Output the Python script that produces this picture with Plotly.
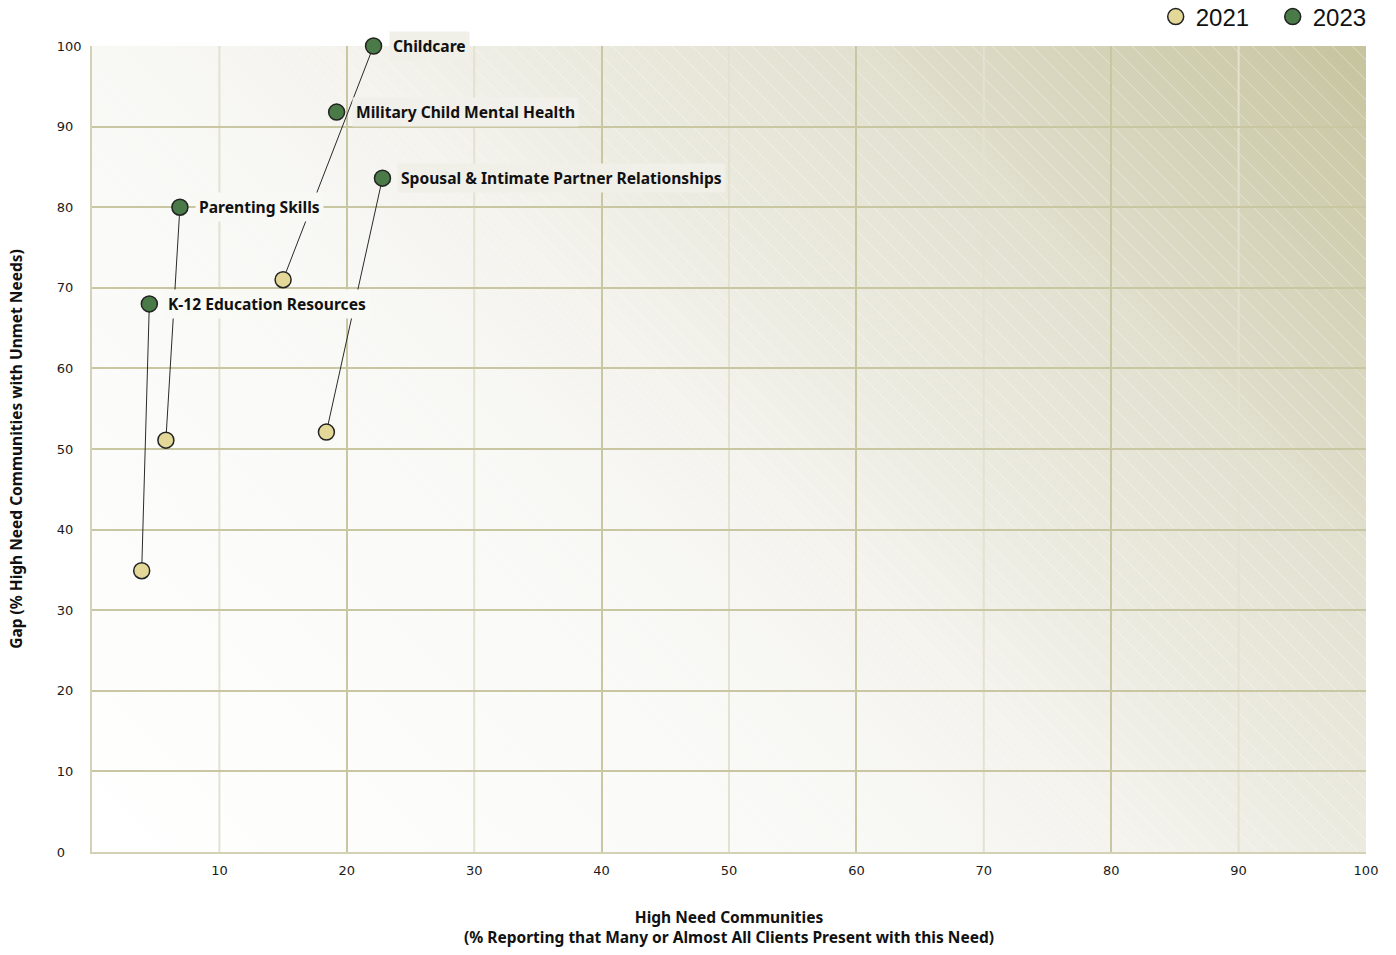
import base64
import plotly.graph_objects as go

# Needs plotted for both survey years (x: % high need communities, y: gap %)
needs = ["Childcare", "Military Child Mental Health", "Spousal & Intimate Partner Relationships",
         "Parenting Skills", "K-12 Education Resources"]
x_2023 = [22.1, 19.2, 22.8, 6.9, 4.5]
y_2023 = [100.0, 91.8, 83.6, 80.0, 68.0]

needs_2021 = ["Childcare", "Spousal & Intimate Partner Relationships", "Parenting Skills",
              "K-12 Education Resources"]
x_2021 = [15.0, 18.4, 5.8, 3.9]
y_2021 = [71.0, 52.1, 51.1, 34.9]

x_ticks = [10, 20, 30, 40, 50, 60, 70, 80, 90, 100]
y_ticks = [0, 10, 20, 30, 40, 50, 60, 70, 80, 90, 100]

# Layout geometry (pixels)
W, H = 1396, 955
M_L, M_R, M_T, M_B = 92, 30, 46, 103
PW, PH = W - M_L - M_R, H - M_T - M_B

# Diagonal background gradient stops (position along bottom-left -> top-right)
STOPS = [(0.0, (255, 255, 255)), (0.39, (248, 248, 245)), (0.5, (244, 243, 238)),
         (0.62, (235, 234, 223)), (0.75, (226, 224, 207)), (1.0, (198, 196, 158))]


def hexc(c):
    return "#%02x%02x%02x" % c


def bg_at(xv, yv):
    """Background colour at data coordinates (used for label boxes)."""
    t = (xv / 100 * PW + yv / 100 * PH) / (PW + PH)
    t = max(0.0, min(1.0, t))
    for (p0, c0), (p1, c1) in zip(STOPS, STOPS[1:]):
        if p0 <= t <= p1:
            f = (t - p0) / (p1 - p0)
            return hexc(tuple(round(a + (b - a) * f) for a, b in zip(c0, c1)))
    return hexc(STOPS[-1][1])


L = (PW + PH) / 2 ** 0.5
gx2, gy2 = L / 2 ** 0.5, PH - L / 2 ** 0.5
stops_svg = "".join(f'<stop offset="{p}" stop-color="{hexc(c)}"/>' for p, c in STOPS)
svg = f'''<svg xmlns="http://www.w3.org/2000/svg" width="{PW}" height="{PH}" viewBox="0 0 {PW} {PH}" preserveAspectRatio="none">
<defs>
<linearGradient id="g" gradientUnits="userSpaceOnUse" x1="0" y1="{PH}" x2="{gx2:.1f}" y2="{gy2:.1f}">{stops_svg}</linearGradient>
<pattern id="h" patternUnits="userSpaceOnUse" width="20" height="20">
<path d="M-5,-5 L25,25 M-5,15 L5,25 M15,-5 L25,5" stroke="white" stroke-opacity="0.35" stroke-width="1"/>
</pattern>
</defs>
<rect width="{PW}" height="{PH}" fill="url(#g)"/>
<rect width="{PW}" height="{PH}" fill="url(#h)"/>
</svg>'''
bg_src = "data:image/svg+xml;base64," + base64.b64encode(svg.encode()).decode()

C21, C23 = "#e3d898", "#4a7a48"
OUT = "#222222"
GRID_DARK, GRID_LIGHT = "#c9c7a2", "#e3e2d1"

fig = go.Figure()

# Connectors from the 2021 position to the 2023 position of the same need
for name, xa, ya in zip(needs_2021, x_2021, y_2021):
    i = needs.index(name)
    fig.add_trace(go.Scatter(x=[xa, x_2023[i]], y=[ya, y_2023[i]], mode="lines",
                             line=dict(color="#2a2a2a", width=1), showlegend=False,
                             hoverinfo="skip", cliponaxis=False))

fig.add_trace(go.Scatter(x=x_2021, y=y_2021, mode="markers", name="2021", text=needs_2021,
                         marker=dict(size=16, color=C21, line=dict(color=OUT, width=1.5)),
                         cliponaxis=False))
fig.add_trace(go.Scatter(x=x_2023, y=y_2023, mode="markers", name="2023", text=needs,
                         marker=dict(size=16, color=C23, line=dict(color=OUT, width=1.5)),
                         cliponaxis=False))

LABEL_FONT = dict(family="'Noto Sans', sans-serif", size=15.6, color="#111111")
for name, xv, yv in zip(needs, x_2023, y_2023):
    box_mid = xv + (15 + len(name) * 4) / PW * 100
    fig.add_annotation(x=xv, y=yv, text=f"<b>{name}</b>", showarrow=False,
                       xanchor="left", yanchor="middle", xshift=15,
                       font=LABEL_FONT, bgcolor=bg_at(box_mid, yv), borderpad=3)

# Lighter odd-decade vertical grid lines
for v in [10, 30, 50, 70, 90]:
    fig.add_shape(type="line", xref="x", yref="paper", x0=v, x1=v, y0=0, y1=1,
                  line=dict(color=GRID_LIGHT, width=2), layer="below")

# Y tick labels are left-aligned: pad shorter numbers with no-break spaces
NBSP = "\u00a0"
y_ticktext = [str(v) + NBSP * (2 * (3 - len(str(v)))) for v in y_ticks]

TICK_FONT = dict(family="DejaVu Sans", size=13, color="#1a1a1a")
TITLE_FONT = dict(family="'Noto Sans', sans-serif", size=15.5, color="#111111")

fig.update_layout(
    width=W, height=H,
    margin=dict(l=M_L, r=M_R, t=M_T, b=M_B, pad=0, autoexpand=False),
    paper_bgcolor="white", plot_bgcolor="rgba(0,0,0,0)",
    images=[dict(source=bg_src, xref="paper", yref="paper", x=0, y=1, sizex=1, sizey=1,
                 xanchor="left", yanchor="top", sizing="stretch", layer="below")],
    showlegend=True,
    legend=dict(orientation="h", xanchor="right", yanchor="middle", x=1.0186, y=1.036,
                entrywidth=72, entrywidthmode="pixels",
                font=dict(family="Liberation Sans, Arial, sans-serif", size=24, color="#111111"),
                bgcolor="rgba(0,0,0,0)", itemclick=False),
    xaxis=dict(range=[0, 100], tickmode="array", tickvals=x_ticks, showgrid=False,
               minor=dict(tickmode="array", tickvals=[20, 40, 60, 80, 100], showgrid=True,
                          gridcolor=GRID_DARK, gridwidth=2, ticks=""),
               showline=True, linecolor="#d3d1b6", linewidth=1.5, zeroline=False,
               ticks="", ticklabelstandoff=6, tickfont=TICK_FONT,
               title=dict(text="<b>High Need Communities</b><br><b>(% Reporting that Many or Almost All Clients Present with this Need)</b>",
                          font=TITLE_FONT, standoff=35)),
    yaxis=dict(range=[0, 100], tickmode="array", tickvals=y_ticks, ticktext=y_ticktext,
               showgrid=True, gridcolor=GRID_DARK, gridwidth=2, showline=True,
               linecolor="#d3d1b6", linewidth=1.5, zeroline=False, ticks="",
               ticklabelstandoff=6, tickfont=TICK_FONT,
               title=dict(text="<b>Gap (% High Need Communities with Unmet Needs)</b>",
                          font=TITLE_FONT, standoff=30)),
    hovermode="closest",
)

fig.write_html("out.html")
